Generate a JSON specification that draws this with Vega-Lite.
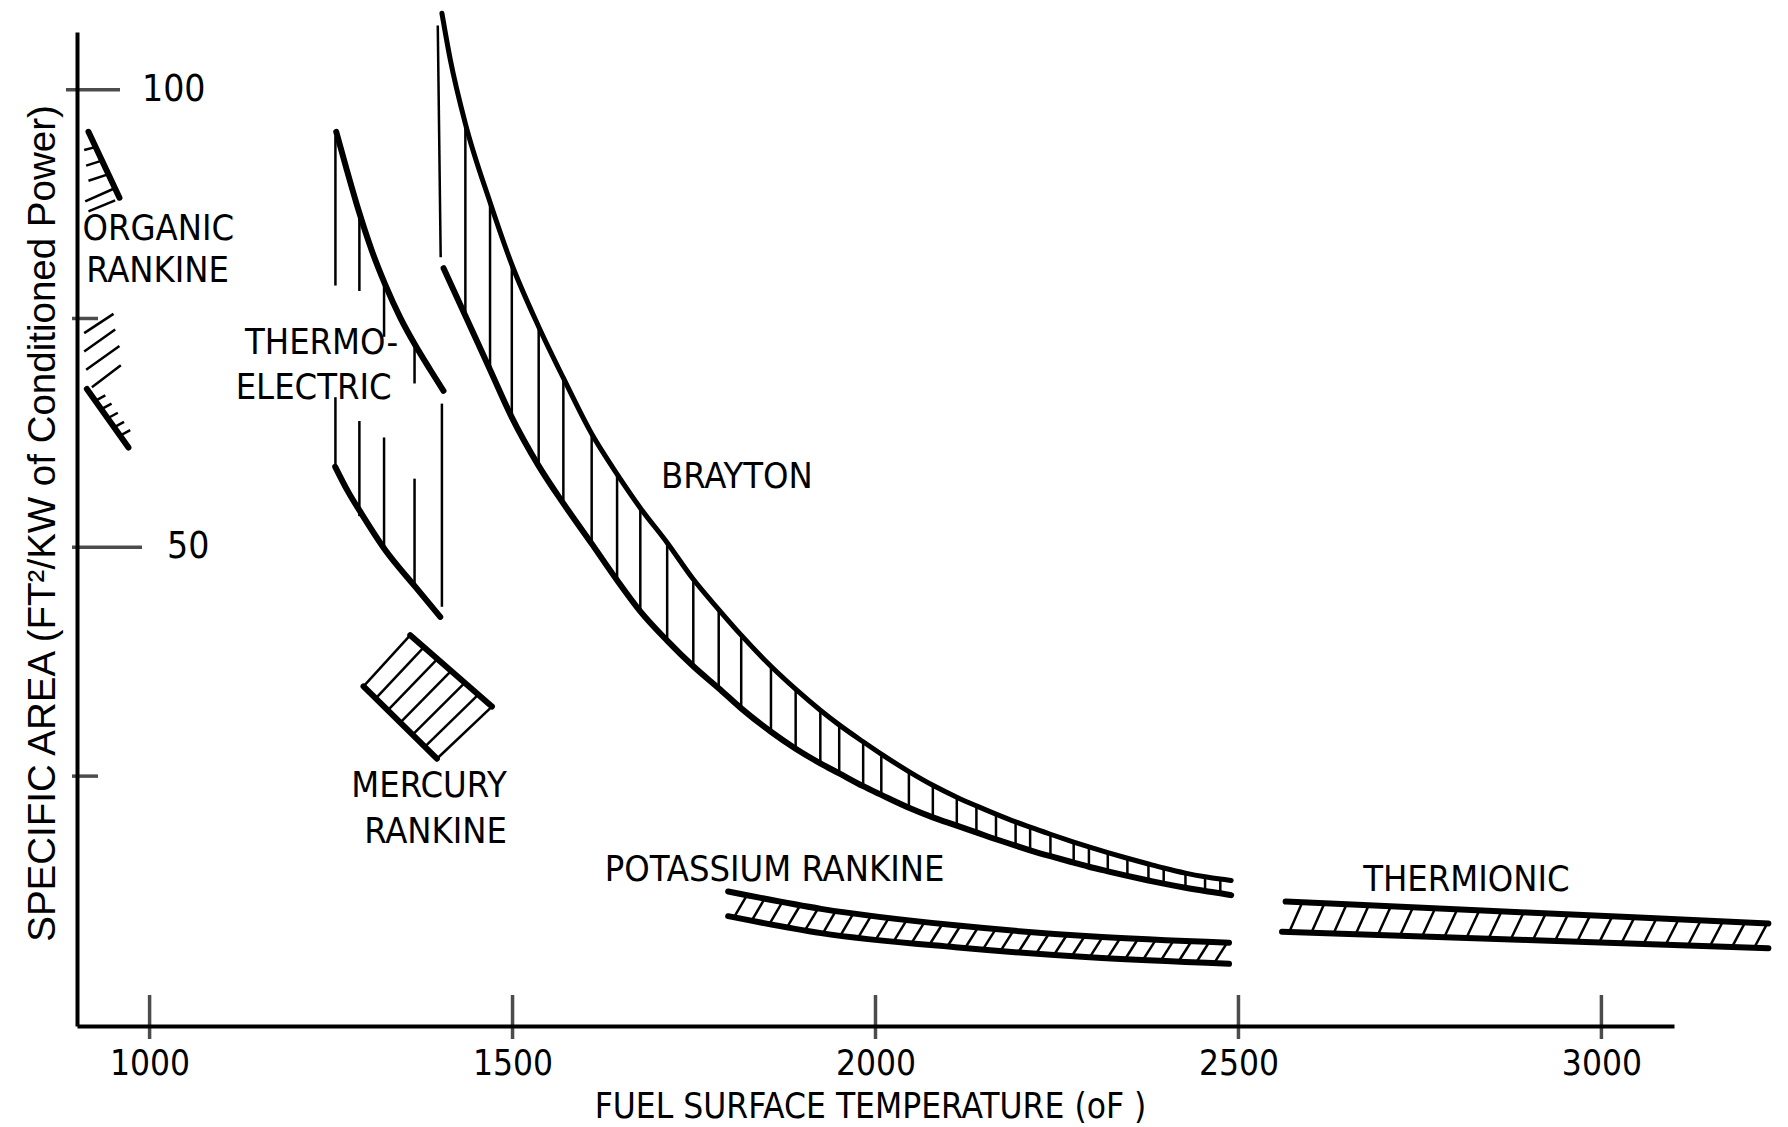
{
  "$schema": "https://vega.github.io/schema/vega-lite/v6.json",
  "width": 1597,
  "height": 994,
  "autosize": {"type": "none"},
  "padding": {"left": 77, "top": 32, "right": 114, "bottom": 101},
  "background": "white",
  "config": {"view": {"stroke": null}},
  "datasets": {
    "curves": [
      {"id": "or_u", "T": 915.8, "V": 95.4}, {"id": "or_u", "T": 958.5, "V": 88.2},
      {"id": "or_l", "T": 913.6, "V": 67.3}, {"id": "or_l", "T": 970.9, "V": 60.9},
      {"id": "te_u", "T": 1257.1, "V": 95.4}, {"id": "te_u", "T": 1271.8, "V": 91.2}, {"id": "te_u", "T": 1287.9, "V": 86.8},
      {"id": "te_u", "T": 1306.2, "V": 82.4}, {"id": "te_u", "T": 1324.6, "V": 78.7}, {"id": "te_u", "T": 1345.3, "V": 75.1},
      {"id": "te_u", "T": 1365.9, "V": 72.1}, {"id": "te_u", "T": 1386.6, "V": 69.4}, {"id": "te_u", "T": 1404.9, "V": 67.1},
      {"id": "te_l", "T": 1255.7, "V": 58.8}, {"id": "te_l", "T": 1274, "V": 56.0}, {"id": "te_l", "T": 1292.5, "V": 53.6},
      {"id": "te_l", "T": 1324.6, "V": 49.7}, {"id": "te_l", "T": 1365.9, "V": 45.7}, {"id": "te_l", "T": 1400.4, "V": 42.4},
      {"id": "hg_a", "T": 1294.7, "V": 34.8}, {"id": "hg_a", "T": 1395.8, "V": 26.9},
      {"id": "hg_b", "T": 1359.1, "V": 40.4}, {"id": "hg_b", "T": 1471.6, "V": 32.6},
      {"id": "k_u", "T": 1797, "V": 12.4}, {"id": "k_u", "T": 1925, "V": 10.5}, {"id": "k_u", "T": 2110, "V": 8.7}, {"id": "k_u", "T": 2295, "V": 7.5}, {"id": "k_u", "T": 2487, "V": 6.8},
      {"id": "k_l", "T": 1797, "V": 9.7}, {"id": "k_l", "T": 1925, "V": 7.85}, {"id": "k_l", "T": 2110, "V": 6.3}, {"id": "k_l", "T": 2295, "V": 5.2}, {"id": "k_l", "T": 2487, "V": 4.5},
      {"id": "ti_u", "T": 2565, "V": 11.3}, {"id": "ti_u", "T": 2897.6, "V": 10.1}, {"id": "ti_u", "T": 3230, "V": 8.9},
      {"id": "ti_l", "T": 2560, "V": 8.0}, {"id": "ti_l", "T": 2897.6, "V": 7.1}, {"id": "ti_l", "T": 3230, "V": 6.2}
    ],
    "brayton": [
      {"T": 1402.7, "hi": 108.35, "h": 0},
      {"T": 1405, "lo": 80.5, "h": 0},
      {"T": 1414.2, "hi": 103.3, "h": 0},
      {"T": 1435, "lo": 75.3, "hi": 96.3, "h": 1},
      {"T": 1469, "lo": 69.4, "hi": 87.7, "h": 1},
      {"T": 1499, "lo": 64.2, "hi": 80.9, "h": 1},
      {"T": 1536, "lo": 58.9, "hi": 74.1, "h": 1},
      {"T": 1570, "lo": 54.8, "hi": 68.5, "h": 1},
      {"T": 1609, "lo": 50.4, "hi": 62.4, "h": 1},
      {"T": 1644, "lo": 46.4, "hi": 58.0, "h": 1},
      {"T": 1676, "lo": 43.0, "hi": 54.3, "h": 1},
      {"T": 1713, "lo": 39.8, "hi": 50.5, "h": 1},
      {"T": 1749, "lo": 37.0, "hi": 46.5, "h": 1},
      {"T": 1784, "lo": 34.6, "hi": 43.2, "h": 1},
      {"T": 1815, "lo": 32.4, "hi": 40.4, "h": 1},
      {"T": 1856, "lo": 29.85, "hi": 37.0, "h": 1},
      {"T": 1890, "lo": 28.0, "hi": 34.5, "h": 1},
      {"T": 1924, "lo": 26.4, "hi": 32.2, "h": 1},
      {"T": 1950, "lo": 25.3, "hi": 30.6, "h": 1},
      {"T": 1983, "lo": 23.9, "hi": 28.75, "h": 1},
      {"T": 2008, "lo": 22.95, "hi": 27.4, "h": 1},
      {"T": 2046, "lo": 21.55, "hi": 25.5, "h": 1},
      {"T": 2079, "lo": 20.5, "hi": 24.0, "h": 1},
      {"T": 2112, "lo": 19.6, "hi": 22.7, "h": 1},
      {"T": 2139, "lo": 18.85, "hi": 21.75, "h": 1},
      {"T": 2166, "lo": 18.1, "hi": 20.85, "h": 1},
      {"T": 2193, "lo": 17.4, "hi": 20.0, "h": 1},
      {"T": 2213, "lo": 16.9, "hi": 19.42, "h": 1},
      {"T": 2241, "lo": 16.25, "hi": 18.65, "h": 1},
      {"T": 2273, "lo": 15.55, "hi": 17.8, "h": 1},
      {"T": 2294, "lo": 15.1, "hi": 17.27, "h": 1},
      {"T": 2320, "lo": 14.6, "hi": 16.65, "h": 1},
      {"T": 2347, "lo": 14.1, "hi": 16.03, "h": 1},
      {"T": 2376, "lo": 13.6, "hi": 15.4, "h": 1},
      {"T": 2397, "lo": 13.25, "hi": 14.96, "h": 1},
      {"T": 2427, "lo": 12.8, "hi": 14.4, "h": 1},
      {"T": 2454, "lo": 12.45, "hi": 14.0, "h": 1},
      {"T": 2475, "lo": 12.2, "hi": 13.75, "h": 1},
      {"T": 2490, "lo": 12.0, "hi": 13.6, "h": 0}
    ],
    "hatch": [
      {"T": 909.9, "V": 93.4, "T2": 926.5, "V2": 93.75},
      {"T": 912.6, "V": 91.7, "T2": 936.5, "V2": 92.3},
      {"T": 915.8, "V": 90.05, "T2": 944.8, "V2": 90.8},
      {"T": 911.3, "V": 87.8, "T2": 951.2, "V2": 89.2},
      {"T": 915.8, "V": 86.7, "T2": 952.6, "V2": 87.9},
      {"T": 909.9, "V": 73.4, "T2": 950.3, "V2": 75.5},
      {"T": 909.9, "V": 71.4, "T2": 952.6, "V2": 73.8},
      {"T": 912.6, "V": 69.4, "T2": 958.5, "V2": 72.0},
      {"T": 920.5, "V": 67.5, "T2": 960.4, "V2": 69.9},
      {"T": 925.1, "V": 66.0, "T2": 939, "V2": 66.6},
      {"T": 933.7, "V": 65.1, "T2": 947.6, "V2": 65.7},
      {"T": 942.3, "V": 64.1, "T2": 956.2, "V2": 64.7},
      {"T": 950.9, "V": 63.1, "T2": 964.8, "V2": 63.7},
      {"T": 959.4, "V": 62.2, "T2": 973.3, "V2": 62.8},
      {"T": 1256, "V": 94.9, "T2": 1256, "V2": 78.6},
      {"T": 1256, "V": 66.4, "T2": 1256, "V2": 58.8},
      {"T": 1289, "V": 86.4, "T2": 1289, "V2": 78.0},
      {"T": 1289, "V": 63.8, "T2": 1289, "V2": 53.4},
      {"T": 1323, "V": 79.0, "T2": 1323, "V2": 73.0},
      {"T": 1323, "V": 62.0, "T2": 1323, "V2": 49.9},
      {"T": 1365, "V": 72.2, "T2": 1365, "V2": 67.9},
      {"T": 1365, "V": 57.5, "T2": 1365, "V2": 45.8},
      {"T": 1402.7, "V": 65.7, "T2": 1402.7, "V2": 43.5},
      {"T": 1397, "V": 107.0, "T2": 1401, "V2": 81.7},
      {"T": 1294.7, "V": 34.8, "T2": 1359.1, "V2": 40.4},
      {"T": 1311.6, "V": 33.5, "T2": 1377.9, "V2": 39.1},
      {"T": 1328.4, "V": 32.2, "T2": 1396.6, "V2": 37.8},
      {"T": 1345.3, "V": 30.85, "T2": 1415.4, "V2": 36.5},
      {"T": 1362.1, "V": 29.5, "T2": 1434.1, "V2": 35.2},
      {"T": 1379.0, "V": 28.2, "T2": 1452.8, "V2": 33.9},
      {"T": 1395.8, "V": 26.9, "T2": 1471.6, "V2": 32.6},
      {"T": 1805, "V": 9.57, "T2": 1823, "V2": 12.0},
      {"T": 1829.5, "V": 9.22, "T2": 1847.5, "V2": 11.64},
      {"T": 1854, "V": 8.87, "T2": 1872, "V2": 11.28},
      {"T": 1878.5, "V": 8.52, "T2": 1896.5, "V2": 10.92},
      {"T": 1903, "V": 8.17, "T2": 1921, "V2": 10.56},
      {"T": 1927.5, "V": 7.83, "T2": 1945.5, "V2": 10.3},
      {"T": 1952, "V": 7.62, "T2": 1970, "V2": 10.06},
      {"T": 1976.5, "V": 7.42, "T2": 1994.5, "V2": 9.82},
      {"T": 2001, "V": 7.21, "T2": 2019, "V2": 9.59},
      {"T": 2025.5, "V": 7.01, "T2": 2043.5, "V2": 9.35},
      {"T": 2050, "V": 6.8, "T2": 2068, "V2": 9.11},
      {"T": 2074.5, "V": 6.6, "T2": 2092.5, "V2": 8.87},
      {"T": 2099, "V": 6.39, "T2": 2117, "V2": 8.65},
      {"T": 2123.5, "V": 6.22, "T2": 2141.5, "V2": 8.5},
      {"T": 2148, "V": 6.07, "T2": 2166, "V2": 8.34},
      {"T": 2172.5, "V": 5.93, "T2": 2190.5, "V2": 8.18},
      {"T": 2197, "V": 5.78, "T2": 2215, "V2": 8.02},
      {"T": 2221.5, "V": 5.64, "T2": 2239.5, "V2": 7.86},
      {"T": 2246, "V": 5.49, "T2": 2264, "V2": 7.7},
      {"T": 2270.5, "V": 5.35, "T2": 2288.5, "V2": 7.54},
      {"T": 2295, "V": 5.2, "T2": 2313, "V2": 7.43},
      {"T": 2319.5, "V": 5.11, "T2": 2337.5, "V2": 7.34},
      {"T": 2344, "V": 5.02, "T2": 2362, "V2": 7.26},
      {"T": 2368.5, "V": 4.93, "T2": 2386.5, "V2": 7.17},
      {"T": 2393, "V": 4.84, "T2": 2411, "V2": 7.08},
      {"T": 2417.5, "V": 4.75, "T2": 2435.5, "V2": 6.99},
      {"T": 2442, "V": 4.66, "T2": 2460, "V2": 6.9},
      {"T": 2466.5, "V": 4.57, "T2": 2484.5, "V2": 6.81},
      {"T": 2570, "V": 7.97, "T2": 2588, "V2": 11.22},
      {"T": 2600.5, "V": 7.89, "T2": 2618.5, "V2": 11.11},
      {"T": 2631, "V": 7.81, "T2": 2649, "V2": 11.0},
      {"T": 2661.5, "V": 7.73, "T2": 2679.5, "V2": 10.89},
      {"T": 2692, "V": 7.64, "T2": 2710, "V2": 10.78},
      {"T": 2722.5, "V": 7.56, "T2": 2740.5, "V2": 10.67},
      {"T": 2753, "V": 7.48, "T2": 2771, "V2": 10.56},
      {"T": 2783.5, "V": 7.4, "T2": 2801.5, "V2": 10.45},
      {"T": 2814, "V": 7.32, "T2": 2832, "V2": 10.34},
      {"T": 2844.5, "V": 7.24, "T2": 2862.5, "V2": 10.23},
      {"T": 2875, "V": 7.15, "T2": 2893, "V2": 10.12},
      {"T": 2905.5, "V": 7.07, "T2": 2923.5, "V2": 10.01},
      {"T": 2936, "V": 6.99, "T2": 2954, "V2": 9.9},
      {"T": 2966.5, "V": 6.91, "T2": 2984.5, "V2": 9.79},
      {"T": 2997, "V": 6.83, "T2": 3015, "V2": 9.68},
      {"T": 3027.5, "V": 6.74, "T2": 3045.5, "V2": 9.57},
      {"T": 3058, "V": 6.66, "T2": 3076, "V2": 9.47},
      {"T": 3088.5, "V": 6.58, "T2": 3106.5, "V2": 9.36},
      {"T": 3119, "V": 6.5, "T2": 3137, "V2": 9.25},
      {"T": 3149.5, "V": 6.42, "T2": 3167.5, "V2": 9.14},
      {"T": 3180, "V": 6.34, "T2": 3198, "V2": 9.03},
      {"T": 3210.5, "V": 6.25, "T2": 3228.5, "V2": 8.92}
    ],
    "labels": [
      {"label": "ORGANIC", "T": 1012, "V": 84.8},
      {"label": "RANKINE", "T": 1011, "V": 80.2},
      {"label": "THERMO-", "T": 1237, "V": 72.3},
      {"label": "ELECTRIC", "T": 1226, "V": 67.4},
      {"label": "BRAYTON", "T": 1809, "V": 57.7},
      {"label": "MERCURY", "T": 1385, "V": 23.9},
      {"label": "RANKINE", "T": 1394, "V": 18.9},
      {"label": "POTASSIUM RANKINE", "T": 1861, "V": 14.7},
      {"label": "THERMIONIC", "T": 2814, "V": 13.7}
    ],
    "xticks": [{"T": 1000}, {"T": 1500}, {"T": 2000}, {"T": 2500}, {"T": 3000}],
    "yticks": [{"V": 25}, {"V": 50}, {"V": 75}, {"V": 100}]
  },
  "layer": [
    {
      "data": {"name": "curves"},
      "mark": {"type": "line", "color": "black", "strokeWidth": 6, "strokeCap": "round", "interpolate": "monotone"},
      "encoding": {
        "x": {"field": "T", "type": "quantitative", "title": "FUEL SURFACE TEMPERATURE (oF )", "scale": {"domain": [900, 3100], "nice": false, "zero": false},
          "axis": {"values": [1000, 1500, 2000, 2500, 3000], "format": "d", "grid": false,
            "ticks": false, "domain": true, "domainColor": "black", "domainWidth": 4,
            "labelFont": "Liberation Sans Narrow, DejaVu Sans Condensed, Liberation Sans, sans-serif", "labelFontSize": 35, "labelColor": "black",
            "labelPadding": 37, "labelBaseline": "middle", "labelFlush": false, "labelOverlap": false,
            "titleFont": "Liberation Sans Narrow, DejaVu Sans Condensed, Liberation Sans, sans-serif", "titleFontSize": 35, "titleFontWeight": "normal", "titleColor": "black",
            "titleX": 793, "titleY": 80, "titleAlign": "center", "titleBaseline": "middle"}},
        "y": {"field": "V", "type": "quantitative", "title": "SPECIFIC AREA (FT²/KW of Conditioned Power)", "scale": {"domain": [-2.3, 106.3], "nice": false, "zero": false},
          "axis": {"values": [50, 100], "grid": false,
            "ticks": false, "labels": false, "domain": true, "domainColor": "black", "domainWidth": 4,
            "titleFont": "Liberation Sans, Arial, sans-serif", "titleFontSize": 38.5, "titleFontWeight": "normal", "titleColor": "black",
            "titleX": -35, "titleY": 491, "titleAngle": 270, "titleAlign": "center", "titleBaseline": "middle"}},
        "detail": {"field": "id", "type": "nominal"}
      }
    },
    {
      "data": {"name": "brayton"},
      "transform": [{"filter": "isValid(datum.hi)"}],
      "mark": {"type": "line", "color": "black", "strokeWidth": 5, "strokeCap": "round", "interpolate": "monotone"},
      "encoding": {
        "x": {"field": "T", "type": "quantitative", "title": "FUEL SURFACE TEMPERATURE (oF )", "scale": {"domain": [900, 3100], "nice": false, "zero": false}},
        "y": {"field": "hi", "type": "quantitative", "title": "SPECIFIC AREA (FT²/KW of Conditioned Power)", "scale": {"domain": [-2.3, 106.3], "nice": false, "zero": false}}
      }
    },
    {
      "data": {"name": "brayton"},
      "transform": [{"filter": "isValid(datum.lo)"}],
      "mark": {"type": "line", "color": "black", "strokeWidth": 6, "strokeCap": "round", "interpolate": "monotone"},
      "encoding": {
        "x": {"field": "T", "type": "quantitative", "title": "FUEL SURFACE TEMPERATURE (oF )", "scale": {"domain": [900, 3100], "nice": false, "zero": false}},
        "y": {"field": "lo", "type": "quantitative", "title": "SPECIFIC AREA (FT²/KW of Conditioned Power)", "scale": {"domain": [-2.3, 106.3], "nice": false, "zero": false}}
      }
    },
    {
      "data": {"name": "brayton"},
      "transform": [{"filter": "datum.h == 1"}],
      "mark": {"type": "rule", "color": "black", "strokeWidth": 2.5},
      "encoding": {
        "x": {"field": "T", "type": "quantitative", "title": "FUEL SURFACE TEMPERATURE (oF )", "scale": {"domain": [900, 3100], "nice": false, "zero": false}},
        "y": {"field": "lo", "type": "quantitative", "title": "SPECIFIC AREA (FT²/KW of Conditioned Power)", "scale": {"domain": [-2.3, 106.3], "nice": false, "zero": false}},
        "y2": {"field": "hi", "title": "SPECIFIC AREA (FT²/KW of Conditioned Power)"}
      }
    },
    {
      "data": {"name": "hatch"},
      "mark": {"type": "rule", "color": "black", "strokeWidth": 2.5},
      "encoding": {
        "x": {"field": "T", "type": "quantitative", "title": "FUEL SURFACE TEMPERATURE (oF )", "scale": {"domain": [900, 3100], "nice": false, "zero": false}},
        "y": {"field": "V", "type": "quantitative", "title": "SPECIFIC AREA (FT²/KW of Conditioned Power)", "scale": {"domain": [-2.3, 106.3], "nice": false, "zero": false}},
        "x2": {"field": "T2", "title": "FUEL SURFACE TEMPERATURE (oF )"},
        "y2": {"field": "V2", "title": "SPECIFIC AREA (FT²/KW of Conditioned Power)"}
      }
    },
    {
      "data": {"name": "labels"},
      "mark": {"type": "text", "color": "black", "font": "Liberation Sans Narrow, DejaVu Sans Condensed, Liberation Sans, sans-serif", "fontSize": 36, "align": "center", "baseline": "middle"},
      "encoding": {
        "x": {"field": "T", "type": "quantitative", "title": "FUEL SURFACE TEMPERATURE (oF )", "scale": {"domain": [900, 3100], "nice": false, "zero": false}},
        "y": {"field": "V", "type": "quantitative", "title": "SPECIFIC AREA (FT²/KW of Conditioned Power)", "scale": {"domain": [-2.3, 106.3], "nice": false, "zero": false}},
        "text": {"field": "label", "type": "nominal"}
      }
    },
    {
      "data": {"name": "xticks"},
      "mark": {"type": "tick", "orient": "vertical", "color": "black", "size": 44, "thickness": 3.5, "yOffset": -9},
      "encoding": {
        "x": {"field": "T", "type": "quantitative", "title": "FUEL SURFACE TEMPERATURE (oF )", "scale": {"domain": [900, 3100], "nice": false, "zero": false}},
        "y": {"datum": -2.3, "type": "quantitative", "title": "SPECIFIC AREA (FT²/KW of Conditioned Power)", "scale": {"domain": [-2.3, 106.3], "nice": false, "zero": false}}
      }
    },
    {
      "data": {"name": "yticks"},
      "transform": [{"filter": "datum.V == 100"}],
      "mark": {"type": "tick", "orient": "horizontal", "color": "black", "size": 54, "thickness": 3.5, "xOffset": 16},
      "encoding": {
        "y": {"field": "V", "type": "quantitative", "title": "SPECIFIC AREA (FT²/KW of Conditioned Power)", "scale": {"domain": [-2.3, 106.3], "nice": false, "zero": false}},
        "x": {"datum": 900, "type": "quantitative", "title": "FUEL SURFACE TEMPERATURE (oF )", "scale": {"domain": [900, 3100], "nice": false, "zero": false}}
      }
    },
    {
      "data": {"name": "yticks"},
      "transform": [{"filter": "datum.V == 50"}],
      "mark": {"type": "tick", "orient": "horizontal", "color": "black", "size": 70, "thickness": 3.5, "xOffset": 30},
      "encoding": {
        "y": {"field": "V", "type": "quantitative", "title": "SPECIFIC AREA (FT²/KW of Conditioned Power)", "scale": {"domain": [-2.3, 106.3], "nice": false, "zero": false}},
        "x": {"datum": 900, "type": "quantitative", "title": "FUEL SURFACE TEMPERATURE (oF )", "scale": {"domain": [900, 3100], "nice": false, "zero": false}}
      }
    },
    {
      "data": {"name": "yticks"},
      "transform": [{"filter": "datum.V == 25 || datum.V == 75"}],
      "mark": {"type": "tick", "orient": "horizontal", "color": "black", "size": 26, "thickness": 3.5, "xOffset": 8},
      "encoding": {
        "y": {"field": "V", "type": "quantitative", "title": "SPECIFIC AREA (FT²/KW of Conditioned Power)", "scale": {"domain": [-2.3, 106.3], "nice": false, "zero": false}},
        "x": {"datum": 900, "type": "quantitative", "title": "FUEL SURFACE TEMPERATURE (oF )", "scale": {"domain": [900, 3100], "nice": false, "zero": false}}
      }
    },
    {
      "data": {"name": "yticks"},
      "transform": [{"filter": "datum.V == 100"}],
      "mark": {"type": "text", "color": "black", "font": "Liberation Sans Narrow, DejaVu Sans Condensed, Liberation Sans, sans-serif", "fontSize": 37, "align": "left", "baseline": "middle", "dx": 65},
      "encoding": {
        "y": {"field": "V", "type": "quantitative", "title": "SPECIFIC AREA (FT²/KW of Conditioned Power)", "scale": {"domain": [-2.3, 106.3], "nice": false, "zero": false}},
        "x": {"datum": 900, "type": "quantitative", "title": "FUEL SURFACE TEMPERATURE (oF )", "scale": {"domain": [900, 3100], "nice": false, "zero": false}},
        "text": {"field": "V", "type": "quantitative"}
      }
    },
    {
      "data": {"name": "yticks"},
      "transform": [{"filter": "datum.V == 50"}],
      "mark": {"type": "text", "color": "black", "font": "Liberation Sans Narrow, DejaVu Sans Condensed, Liberation Sans, sans-serif", "fontSize": 37, "align": "left", "baseline": "middle", "dx": 90},
      "encoding": {
        "y": {"field": "V", "type": "quantitative", "title": "SPECIFIC AREA (FT²/KW of Conditioned Power)", "scale": {"domain": [-2.3, 106.3], "nice": false, "zero": false}},
        "x": {"datum": 900, "type": "quantitative", "title": "FUEL SURFACE TEMPERATURE (oF )", "scale": {"domain": [900, 3100], "nice": false, "zero": false}},
        "text": {"field": "V", "type": "quantitative"}
      }
    }
  ]
}
